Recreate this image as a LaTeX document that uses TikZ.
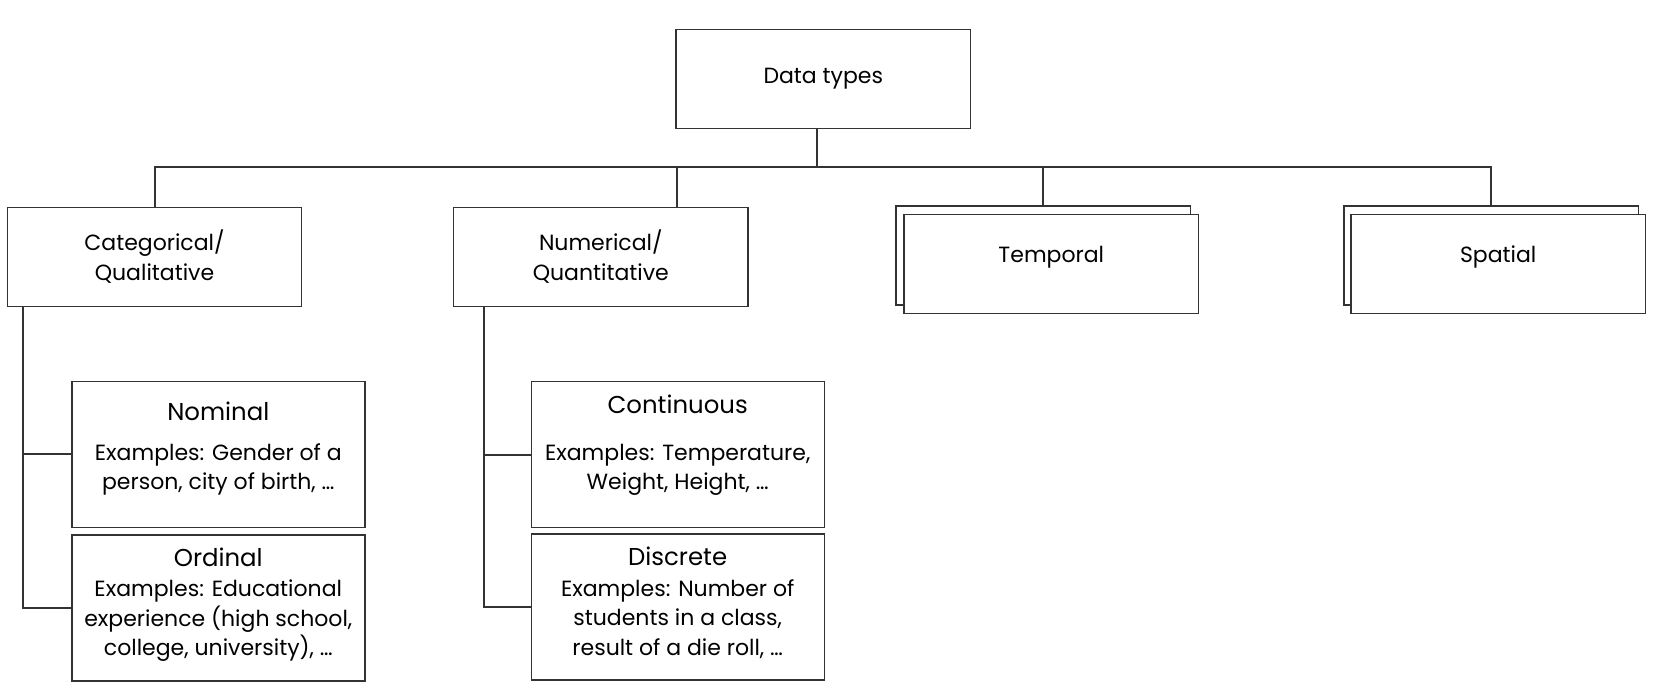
\documentclass[tikz,border=0pt]{standalone}
\usepackage{fontspec}
\setmainfont{Poppins}

\definecolor{linec}{HTML}{333333}
\newcommand{\titlesize}{\fontsize{12.2}{15}\selectfont}
% leaf box text: title baseline, title, gap, body
\newcommand{\leaftext}[4]{\parbox[c][73pt][t]{146.5pt}{\centering\rule{0pt}{#1}{\titlesize #2}\par\vspace{#3}#4}}
\newcommand{\backtext}[1]{\parbox[c][49.5pt][t]{147.2pt}{\centering\rule{0pt}{24pt}#1}}

\begin{document}
\begin{tikzpicture}[x=0.5pt,y=-0.5pt,font=\fontsize{11}{14.8}\selectfont,
  box/.style={draw=linec,line width=0.7pt,fill=white,inner sep=0pt,
    minimum width=147.2pt,minimum height=49.5pt,align=center},
  leaf/.style={draw=linec,line width=0.7pt,fill=white,inner sep=0pt},
  link/.style={draw=linec,line width=1pt}]
\useasboundingbox (0,0) rectangle (1654,694);

\node[box] (top) at (823.3,79) {\raisebox{-1.5pt}{Data types}};
\node[box] (cat) at (154.5,256.8) {Categorical/\\Qualitative};
\node[box] (num) at (600.8,256.8) {Numerical/\\Quantitative};
\node[box] (tempb) at (1043.3,255.7) {};
\node[box] (temp) at (1051.3,263.8) {\backtext{Temporal}};
\node[box] (spb) at (1491.3,255.7) {};
\node[box] (spat) at (1498.2,263.8) {\backtext{Spatial}};

\node[leaf] (nom) at (218.3,454.5) {\leaftext{19.5pt}{Nominal}{5pt}{Examples: Gender of a\\person, city of birth, \dots}};
\node[leaf] (ord) at (218.3,608) {\leaftext{15.7pt}{Ordinal}{0.4pt}{Examples: Educational\\experience (high school,\\college, university), \dots}};
\node[leaf] (cont) at (677.7,454.6) {\leaftext{16.2pt}{Continuous}{8.4pt}{Examples: Temperature,\\Weight, Height, \dots}};
\node[leaf] (disc) at (677.7,607) {\leaftext{15.9pt}{Discrete}{0.4pt}{Examples: Number of\\students in a class,\\result of a die roll, \dots}};

% tree lines
\coordinate (bus) at (0,167.5);
\coordinate (toptap) at (817.3,0);
\coordinate (numtap) at (677,0);
\coordinate (cattrunk) at (23.3,0);
\coordinate (numtrunk) at (484,0);
\draw[link] (top.south -| toptap) -- (toptap |- bus);
\draw[link] (cat.north) |- (spb.north |- bus) -- (spb.north);
\draw[link] (tempb.north) -- (tempb.north |- bus);
\draw[link] (num.north -| numtap) -- (numtap |- bus);

\draw[link] (cat.south -| cattrunk) |- (ord.west);
\draw[link] (nom.west) -- (nom.west -| cattrunk);
\draw[link] (num.south -| numtrunk) |- (disc.west);
\draw[link] (cont.west) -- (cont.west -| numtrunk);
\end{tikzpicture}
\end{document}
